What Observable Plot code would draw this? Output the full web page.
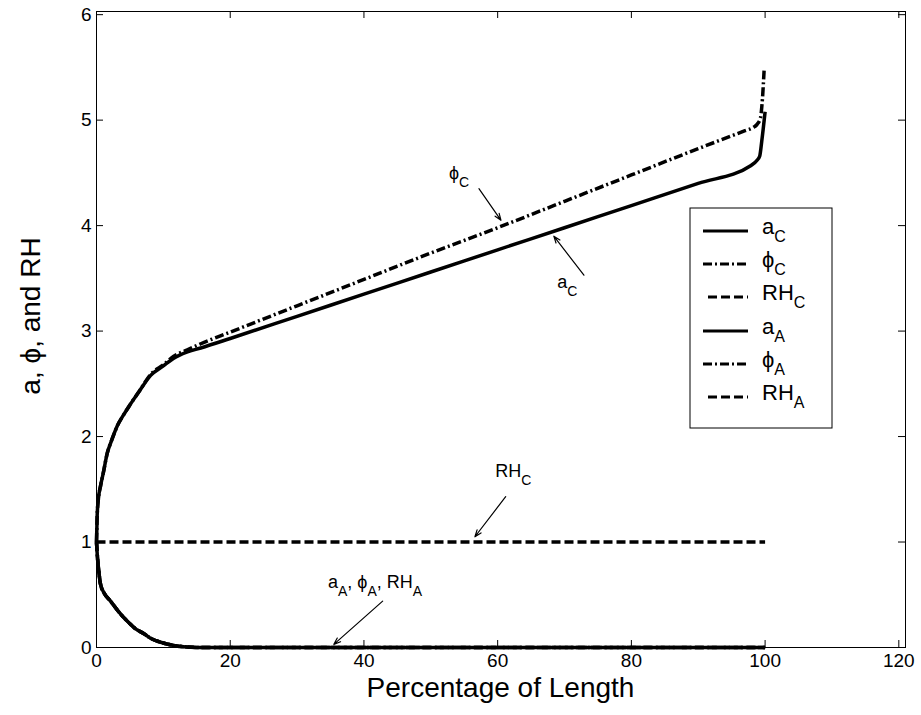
<!DOCTYPE html>
<html><head><meta charset="utf-8">
<script src="https://cdn.jsdelivr.net/npm/d3@7"></script>
<script src="https://cdn.jsdelivr.net/npm/@observablehq/plot@0.6"></script>
<style>
body{margin:0;background:#fff}
#chart{position:relative;width:921px;height:715px}
</style>
</head><body><div id="chart"></div>
<script>
// ---- data ----
const xTicks = [0, 20, 40, 60, 80, 100, 120];
const yTicks = [0, 1, 2, 3, 4, 5, 6];
const xLabel = "Percentage of Length";
const yLabel = "a, ϕ, and RH";

// cathode side
const xAC  = [0, 0.1, 0.3, 0.6, 1.0, 1.6, 2.3, 3.1, 4.0, 5.0, 6.5, 8.1, 10, 11.5, 13.5, 15.6, 20, 30, 40, 50, 60, 70, 80, 90, 97.9, 98.8, 99.2, 99.5, 100];
const aC   = [1.0, 1.25, 1.42, 1.53, 1.65, 1.84, 1.97, 2.1, 2.2, 2.3, 2.44, 2.58, 2.67, 2.74, 2.8, 2.84, 2.93, 3.14, 3.35, 3.56, 3.77, 3.98, 4.19, 4.40, 4.57, 4.62, 4.66, 4.8, 5.08];
const xPhiC = [0, 0.1, 0.3, 0.6, 1.0, 1.6, 2.3, 3.1, 4.0, 5.0, 6.5, 8.1, 10, 11.5, 13.5, 15.6, 20, 30, 40, 50, 60, 70, 80, 90, 97, 98.2, 98.8, 99.3, 99.6, 99.85];
const phiC  = [1.0, 1.25, 1.42, 1.53, 1.65, 1.84, 1.97, 2.1, 2.2, 2.3, 2.44, 2.59, 2.68, 2.76, 2.82, 2.88, 2.99, 3.24, 3.49, 3.74, 3.98, 4.23, 4.48, 4.73, 4.90, 4.93, 4.96, 5.02, 5.2, 5.47];
const xRHC = [0, 50, 100];
const RHC  = [1, 1, 1];

// anode side (the three curves coincide)
const xAnode = [0, 0.15, 0.3, 0.6, 1.2, 2.1, 3.3, 4.6, 5.8, 7.1, 8.3, 9.6, 11.5, 13.5, 16, 30, 50, 70, 100];
const aA   = [1.0, 0.85, 0.75, 0.6, 0.51, 0.44, 0.34, 0.25, 0.18, 0.13, 0.08, 0.05, 0.02, 0.005, 0, 0, 0, 0, 0];
const phiA = [1.0, 0.85, 0.75, 0.6, 0.51, 0.44, 0.34, 0.25, 0.18, 0.13, 0.08, 0.05, 0.02, 0.005, 0, 0, 0, 0, 0];
const RHA  = [1.0, 0.85, 0.75, 0.6, 0.51, 0.44, 0.34, 0.25, 0.18, 0.13, 0.08, 0.05, 0.02, 0.005, 0, 0, 0, 0, 0];

// annotations: label start (x, baseline y) and arrow from -> to, in data units
const annLabels = [
  [["ϕ", "C"]],
  [["a", "C"]],
  [["RH", "C"]],
  [["a", "A"], [", ϕ", "A"], [", RH", "A"]]
];
const annX = [52.8, 69.0, 59.7, 34.7];
const annY = [4.44, 3.40, 1.61, 0.56];
const arrowX1 = [57.2, 72.9, 61.2, 42.8];
const arrowY1 = [4.35, 3.53, 1.43, 0.44];
const arrowX2 = [60.5, 68.4, 56.6, 35.5];
const arrowY2 = [4.05, 3.90, 1.05, 0.03];

// legend
const legendNames = [["a","C"],["ϕ","C"],["RH","C"],["a","A"],["ϕ","A"],["RH","A"]];
const legendStyles = ["solid","dashdot","dashed","solid","dashdot","dashed"];

// ---- build ----
const W = 921, H = 715, mL = 96, mR = 16, mT = 11, mB = 68;
const innerW = W - mL - mR, innerH = H - mT - mB;
const DASH = {solid: null, dashdot: "9,3,2,3", dashed: "9,4"};
const LW = 3.5;
const FONT = "Liberation Sans, Arial, Helvetica, sans-serif";

const pts = (xs, ys) => xs.map((x, i) => ({x, y: ys[i]}));
const arrows = arrowX1.map((d, i) => ({x1: d, y1: arrowY1[i], x2: arrowX2[i], y2: arrowY2[i]}));

const lineMark = (data, style) => Plot.line(data, {
  x: "x", y: "y", stroke: "black", strokeWidth: LW, curve: "monotone-x",
  strokeDasharray: DASH[style], strokeLinecap: "butt", strokeLinejoin: "round"
});

const chart = Plot.plot({
  width: W, height: H,
  marginLeft: mL, marginRight: mR, marginTop: mT, marginBottom: mB,
  style: {fontFamily: FONT, fontSize: "19px", background: "white", color: "black"},
  x: {domain: [0, 121]},
  y: {domain: [0, 6.03]},
  marks: [
    Plot.axisX(xTicks, {tickSize: 0, tickPadding: 6, label: null, fontSize: 19, tickFormat: d => String(d)}),
    Plot.axisY(yTicks, {tickSize: 0, tickPadding: 5, label: null, fontSize: 19, tickFormat: d => String(d)}),
    Plot.tickX(xTicks, {x: d => d, insetTop: innerH - 7, stroke: "black", strokeWidth: 1}),
    Plot.tickX(xTicks, {x: d => d, insetBottom: innerH - 7, stroke: "black", strokeWidth: 1}),
    Plot.tickY(yTicks, {y: d => d, insetRight: innerW - 7, stroke: "black", strokeWidth: 1}),
    Plot.tickY(yTicks, {y: d => d, insetLeft: innerW - 7, stroke: "black", strokeWidth: 1}),
    lineMark(pts(xAnode, RHA), "dashed"),
    lineMark(pts(xAnode, phiA), "dashdot"),
    lineMark(pts(xAnode, aA), "solid"),
    lineMark(pts(xRHC, RHC), "dashed"),
    lineMark(pts(xAC, aC), "solid"),
    lineMark(pts(xPhiC, phiC), "dashdot"),
    Plot.arrow(arrows, {x1: "x1", y1: "y1", x2: "x2", y2: "y2", stroke: "black", strokeWidth: 1.2, headLength: 9, headAngle: 40}),
    Plot.frame({stroke: "black", strokeWidth: 1})
  ]
});

document.getElementById("chart").appendChild(chart);

const svg = d3.select(chart);
const sx = chart.scale("x"), sy = chart.scale("y");

// axis titles
svg.append("text")
  .attr("x", (mL + W - mR) / 2).attr("y", 697)
  .attr("text-anchor", "middle").attr("font-family", FONT).attr("font-size", 28)
  .attr("fill", "black").text(xLabel);
svg.append("text")
  .attr("transform", `translate(40,316) rotate(-90)`)
  .attr("text-anchor", "middle").attr("font-family", FONT).attr("font-size", 28)
  .attr("fill", "black").text(yLabel);

// labels with subscripts
function subText(g, x, y, parts, fs, sfs, sdy) {
  const t = g.append("text").attr("x", x).attr("y", y)
    .attr("text-anchor", "start")
    .attr("font-family", FONT).attr("font-size", fs).attr("fill", "black");
  parts.forEach(([b, s], i) => {
    t.append("tspan").attr("dy", i === 0 ? 0 : -sdy).attr("font-size", fs).text(b);
    t.append("tspan").attr("dy", sdy).attr("font-size", sfs).text(s);
  });
  return t;
}
const annG = svg.append("g").attr("text-anchor", "start");
annLabels.forEach((parts, i) => {
  subText(annG, sx.apply(annX[i]), sy.apply(annY[i]), parts, 18, 14, 8);
});

// legend box
const lg = svg.append("g").attr("text-anchor", "start");
const bx = 690, by = 208, bw = 142, bh = 220;
lg.append("rect").attr("x", bx).attr("y", by).attr("width", bw).attr("height", bh)
  .attr("fill", "white").attr("stroke", "black").attr("stroke-width", 1);
const rowY = [231, 264, 297, 331, 364, 397];
legendNames.forEach((nm, i) => {
  const st = legendStyles[i];
  const x0 = st === "dashed" ? 708 : 703;
  lg.append("line").attr("x1", x0).attr("x2", 748).attr("y1", rowY[i]).attr("y2", rowY[i])
    .attr("stroke", "black").attr("stroke-width", 3)
    .attr("stroke-dasharray", DASH[st]);
  subText(lg, 762, rowY[i] + 3, [nm], 22, 16, 8);
});
</script>
</body></html>
